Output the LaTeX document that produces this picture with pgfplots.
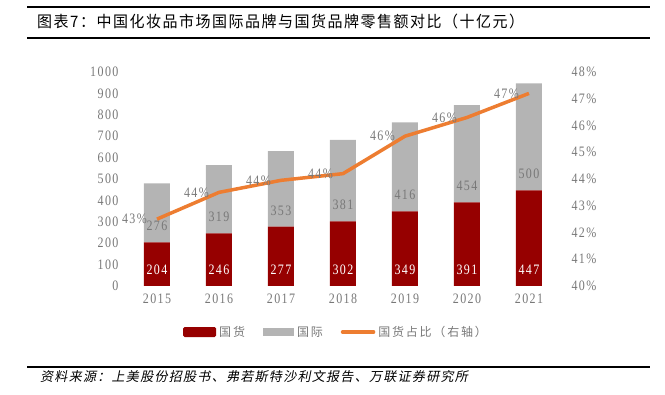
\documentclass[border=0pt]{standalone}
\usepackage{pgfplots}
\pgfplotsset{compat=1.18}
\usepackage{fontspec}
\setmainfont{Liberation Serif}
\newfontfamily\cjk{Noto Sans CJK SC}
\newfontfamily\cjktitle{Noto Sans CJK SC}[LetterSpace=10]
\newfontfamily\cjkls{Noto Sans CJK SC}[LetterSpace=15]
\newfontfamily\cjkit{Noto Sans CJK SC}[FakeSlant=0.2, LetterSpace=10]
\newfontfamily\numf{Liberation Serif}[LetterSpace=12]
\definecolor{gh}{RGB}{150,0,0}
\definecolor{gj}{RGB}{180,180,180}
\definecolor{ln}{RGB}{237,125,49}
\definecolor{tx}{RGB}{120,120,120}
\begin{document}
\begin{tikzpicture}[x=1pt,y=1pt]
\path[use as bounding box] (0,0) rectangle (665,395);
\draw[line width=2.6pt] (27,388) -- (650,388);
\draw[line width=2.6pt] (27,357) -- (650,357);
\node[anchor=west, inner sep=0pt, yscale=1.05] at (37,373) {\fontsize{15}{17}\selectfont\cjktitle 图表7：中国化妆品市场国际品牌与国货品牌零售额对比（十亿元）};
\draw[line width=1.6pt] (27,28) -- (650,28);
\node[anchor=west, inner sep=0pt] at (40,18) {\fontsize{13}{15}\selectfont\cjkit 资料来源：上美股份招股书、弗若斯特沙利文报告、万联证券研究所};

% bars
\begin{axis}[
  at={(126pt,109pt)}, anchor=south west,
  scale only axis, width=434pt, height=214pt,
  xmin=-0.5, xmax=6.5, ymin=0, ymax=1000,
  ybar stacked, bar width=26pt,
  axis line style={draw=none}, major tick length=0pt,
  xtick={0,...,6}, xticklabels={2015,2016,2017,2018,2019,2020,2021},
  ytick={0,100,...,1000},
  /pgf/number format/1000 sep={},
  /pgf/number format/assume math mode=true,
  tick label style={font=\fontsize{12}{14}\selectfont\numf, text=tx, yscale=1.2},
  yticklabel style={xshift=-4pt},
  xticklabel style={yshift=-3pt},
  legend columns=3,
  legend style={at={(0.484,-0.215)}, anchor=center, draw=none, fill=none,
    font=\fontsize{12}{14}\selectfont\cjkls, text=tx,
    /tikz/every odd column/.append style={column sep=1pt},
    /tikz/every even column/.append style={column sep=16pt}},
  legend cell align=left,
]
\addplot[fill=gh, draw=none, legend image code/.code={\fill[gh, rounded corners=1.5pt] (0pt,-5pt) rectangle (33pt,5pt);}] coordinates {(0,204) (1,246) (2,277) (3,302) (4,349) (5,391) (6,447)};
\addlegendentry{国货}
\addplot[fill=gj, draw=none, legend image code/.code={\fill[gj] (0pt,-4pt) rectangle (31pt,4pt);}] coordinates {(0,276) (1,319) (2,353) (3,381) (4,416) (5,454) (6,500)};
\addlegendentry{国际}
\addlegendimage{legend image code/.code={\draw[ln, line width=3.5pt, line cap=round] (1pt,0pt) -- (32pt,0pt);}}
\addlegendentry{国货占比（右轴）}
\end{axis}

% bar labels
\begin{axis}[
  at={(126pt,109pt)}, anchor=south west,
  scale only axis, width=434pt, height=214pt,
  xmin=-0.5, xmax=6.5, ymin=0, ymax=1000,
  hide axis,
  nodes near coords, point meta=explicit symbolic,
  every node near coord/.append style={anchor=center, font=\fontsize{12}{14}\selectfont\numf, yscale=1.2},
]
\addplot[draw=none, mark=none, nodes near coords style={text=white}] coordinates {(0,75)[204] (1,75)[246] (2,75)[277] (3,75)[302] (4,75)[349] (5,75)[391] (6,75)[447]};
\addplot[draw=none, mark=none, nodes near coords style={text=tx}] coordinates {(0,280)[276] (1,322)[319] (2,353)[353] (3,378)[381] (4,425)[416] (5,467)[454] (6,523)[500]};
\end{axis}

% line on right axis
\begin{axis}[
  at={(126pt,109pt)}, anchor=south west,
  scale only axis, width=434pt, height=214pt,
  xmin=-0.5, xmax=6.5, ymin=40, ymax=48,
  axis y line*=right, axis x line=none,
  axis line style={draw=none}, major tick length=0pt,
  ytick={40,41,...,48},
  yticklabel={\pgfmathprintnumber{\tick}\%},
  /pgf/number format/assume math mode=true,
  yticklabel style={font=\fontsize{12}{14}\selectfont\numf, text=tx, yscale=1.2, xshift=8pt},
]
\addplot[ln, line width=3.5pt, mark=none,
  nodes near coords, point meta=explicit symbolic,
  every node near coord/.append style={anchor=east, xshift=-5pt, text=tx, font=\fontsize{12}{14}\selectfont\numf, yscale=1.2}]
  coordinates {(0,42.5)[43\%] (1,43.5)[44\%] (2,43.95)[44\%] (3,44.2)[44\%] (4,45.6)[46\%] (5,46.3)[46\%] (6,47.2)[47\%]};
\end{axis}
\end{tikzpicture}
\end{document}
